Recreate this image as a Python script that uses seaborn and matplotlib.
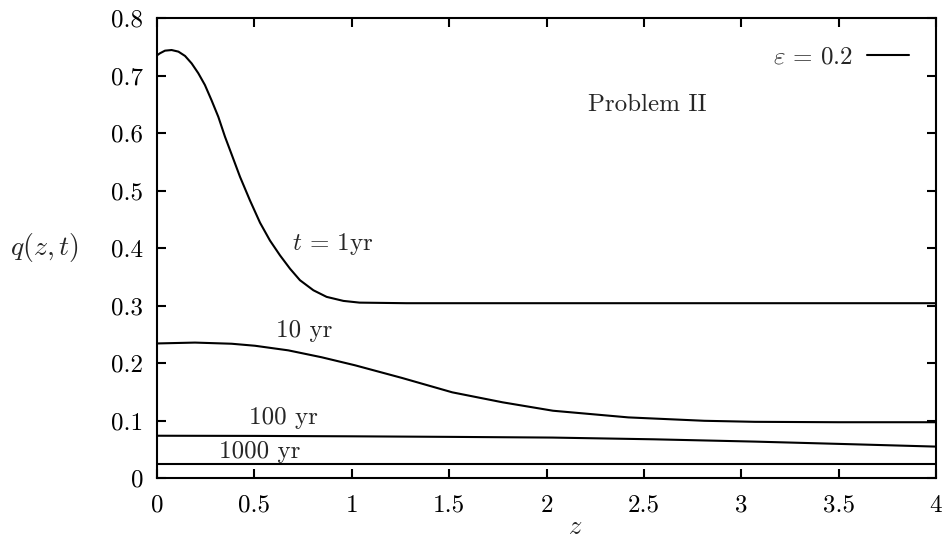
import matplotlib
matplotlib.use("Agg")
import matplotlib.pyplot as plt
from matplotlib.lines import Line2D
import seaborn as sns
import pandas as pd

# ---- data ----
z_1yr = [0.0, 0.015, 0.041, 0.075, 0.11, 0.144, 0.178, 0.212, 0.246, 0.28, 0.315,
         0.349, 0.383, 0.426, 0.477, 0.529, 0.58, 0.632, 0.683, 0.734, 0.803,
         0.871, 0.957, 1.04, 1.28, 2.0, 3.0, 4.0]
q_1yr = [0.735, 0.7386, 0.7432, 0.7443, 0.7415, 0.734, 0.721, 0.704, 0.6835, 0.657, 0.628,
         0.5936, 0.563, 0.524, 0.483, 0.444, 0.413, 0.387, 0.364, 0.344, 0.3265,
         0.315, 0.308, 0.305, 0.304, 0.304, 0.304, 0.304]

z_10yr = [0.0, 0.195, 0.383, 0.503, 0.674, 0.845, 1.017, 1.258, 1.516, 1.775, 2.033,
          2.42, 2.81, 3.07, 3.5, 4.0]
q_10yr = [0.234, 0.2355, 0.2335, 0.230, 0.222, 0.210, 0.196, 0.174, 0.149, 0.1316, 0.117,
          0.1054, 0.0995, 0.0977, 0.097, 0.097]

z_100yr = [0.0, 0.5, 1.0, 1.516, 2.03, 2.55, 3.07, 3.58, 4.0]
q_100yr = [0.0735, 0.0732, 0.0725, 0.0715, 0.0703, 0.0673, 0.0633, 0.0586, 0.0546]

z_1000yr = [0.0, 1.0, 2.0, 3.0, 4.0]
q_1000yr = [0.024, 0.024, 0.024, 0.024, 0.024]

series_names = ["1 yr", "10 yr", "100 yr", "1000 yr"]
x_ticks = [0, 0.5, 1, 1.5, 2, 2.5, 3, 3.5, 4]
x_tick_labels = ["0", "0.5", "1", "1.5", "2", "2.5", "3", "3.5", "4"]
y_ticks = [0, 0.1, 0.2, 0.3, 0.4, 0.5, 0.6, 0.7, 0.8]
y_tick_labels = ["0", "0.1", "0.2", "0.3", "0.4", "0.5", "0.6", "0.7", "0.8"]

frames = []
for name, zz, qq in zip(series_names, [z_1yr, z_10yr, z_100yr, z_1000yr],
                        [q_1yr, q_10yr, q_100yr, q_1000yr]):
    frames.append(pd.DataFrame({"z": zz, "q": qq, "series": name}))
df = pd.concat(frames, ignore_index=True)

sns.set_style("ticks")
plt.rcParams["font.family"] = ["cmr10", "DejaVu Serif"]
plt.rcParams["mathtext.fontset"] = "cm"
plt.rcParams["axes.formatter.use_mathtext"] = True

FS = 18
fig = plt.figure(figsize=(9.42, 5.42), dpi=100)
ax = fig.add_axes([157 / 942, 1 - 478 / 542, (936 - 157) / 942, (478 - 18) / 542])

sns.lineplot(data=df, x="z", y="q", hue="series", palette=["black"] * 4,
             estimator=None, sort=True, linewidth=1.5, legend=False, ax=ax)

ax.set_xlim(0, 4)
ax.set_ylim(0, 0.8)
ax.set_xticks(x_ticks)
ax.set_xticklabels(x_tick_labels)
ax.set_yticks(y_ticks)
ax.set_yticklabels(y_tick_labels)
ax.tick_params(direction="in", length=6.5, width=1.5, top=True, right=True,
               labelsize=FS, colors="black")
ax.tick_params(axis="x", pad=12)
ax.tick_params(axis="y", pad=10)
for sp in ax.spines.values():
    sp.set_visible(True)
    sp.set_linewidth(1.5)
    sp.set_color("black")

ax.set_xlabel(r"$z$", fontsize=19, va="center", ha="center")
ax.xaxis.set_label_coords(0.537, -0.106)
ax.set_ylabel(r"$q(z,t)$", fontsize=20, rotation=0, va="center", ha="center")
ax.yaxis.set_label_coords(-0.144, 0.50)

ax.text(0.904, 0.407, r"$t\,=\,1$yr", fontsize=FS, ha="center", va="center")
ax.text(0.755, 0.256, "10 yr", fontsize=FS, ha="center", va="center")
ax.text(0.647, 0.104, "100 yr", fontsize=FS, ha="center", va="center")
ax.text(0.529, 0.045, "1000 yr", fontsize=FS, ha="center", va="center")
ax.text(2.516, 0.649, "Problem II", fontsize=FS, ha="center", va="center")

handle = Line2D([], [], color="black", linewidth=1.5)
ax.legend([handle], [r"$\varepsilon\,=\,0.2$"], loc="upper right", frameon=False,
          markerfirst=False, handlelength=1.68, fontsize=FS,
          bbox_to_anchor=(0.994, 0.987), handletextpad=0.56)

fig.savefig("out.png", dpi=100)
